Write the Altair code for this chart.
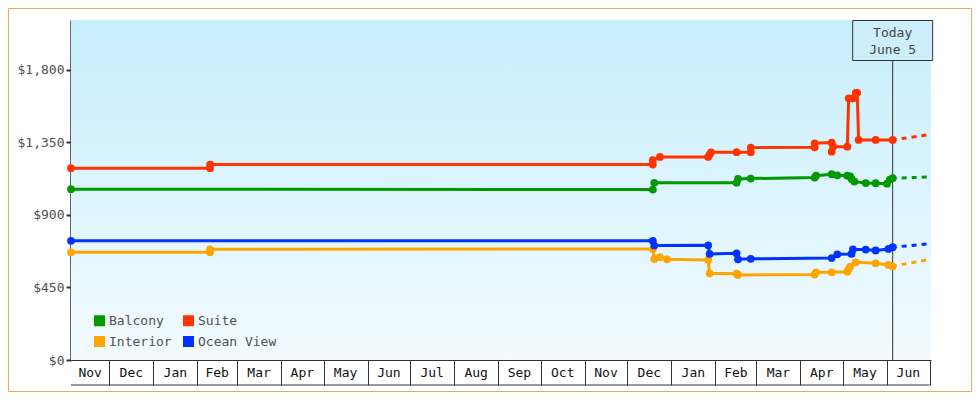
import altair as alt
import pandas as pd

MONO = "DejaVu Sans Mono"

# legend is filled column by column: Balcony/Interior, then Suite/Ocean View
series_names = ["Balcony", "Interior", "Suite", "Ocean View"]
series_colors = ["#009900", "#ffa500", "#ff3300", "#0033ff"]

suite_dates = ["2022-11-04", "2023-02-10", "2023-02-10", "2023-12-19", "2023-12-19", "2023-12-24",
               "2024-01-27", "2024-01-28", "2024-01-29", "2024-02-16", "2024-02-26", "2024-02-26",
               "2024-04-11", "2024-04-11", "2024-04-23", "2024-04-23", "2024-04-24", "2024-05-04",
               "2024-05-05", "2024-05-08", "2024-05-10", "2024-05-11", "2024-05-12", "2024-05-24",
               "2024-06-05"]
suite_values = [1190, 1190, 1213, 1213, 1240, 1260,
                1260, 1275, 1289, 1290, 1290, 1318,
                1320, 1345, 1349, 1293, 1324, 1324,
                1624, 1624, 1658, 1658, 1366, 1366,
                1366]

balcony_dates = ["2022-11-04", "2023-12-19", "2023-12-20", "2024-02-16", "2024-02-17", "2024-02-26",
                 "2024-04-11", "2024-04-12", "2024-04-23", "2024-04-27", "2024-05-04", "2024-05-06",
                 "2024-05-07", "2024-05-09", "2024-05-17", "2024-05-24", "2024-06-01", "2024-06-03",
                 "2024-06-05"]
balcony_values = [1060, 1058, 1100, 1100, 1124, 1126,
                  1132, 1144, 1153, 1146, 1144, 1140,
                  1124, 1107, 1098, 1097, 1094, 1120,
                  1128]

interior_dates = ["2022-11-04", "2023-02-10", "2023-02-10", "2023-12-19", "2023-12-20", "2023-12-24",
                  "2023-12-29", "2024-01-27", "2024-01-28", "2024-02-16", "2024-02-17", "2024-04-11",
                  "2024-04-12", "2024-04-23", "2024-05-04", "2024-05-05", "2024-05-06", "2024-05-10",
                  "2024-05-24", "2024-06-02", "2024-06-05"]
interior_values = [668, 668, 687, 689, 627, 638,
                   625, 621, 538, 536, 528, 530,
                   544, 544, 548, 565, 579, 606,
                   600, 590, 580]

ocean_dates = ["2022-11-04", "2023-12-19", "2023-12-20", "2024-01-27", "2024-01-28", "2024-02-16",
               "2024-02-17", "2024-02-26", "2024-04-23", "2024-04-27", "2024-05-07", "2024-05-08",
               "2024-05-17", "2024-05-24", "2024-06-02", "2024-06-05"]
ocean_values = [740, 740, 710, 712, 658, 662,
                625, 628, 633, 656, 658, 686,
                685, 680, 689, 700]

proj_dates = ["2024-06-05", "2024-07-02"]
proj_suite = [1366, 1400]
proj_balcony = [1128, 1136]
proj_interior = [582, 625]
proj_ocean = [700, 722]

today_date = "2024-06-05"
today_label = ["Today", "June 5"]

y_ticks = [0, 450, 900, 1350, 1800]
y_max = 2110

domain_start = "2022-11-04"
domain_end = "2024-07-02"
month_names = ["Nov", "Dec", "Jan", "Feb", "Mar", "Apr", "May", "Jun", "Jul", "Aug",
               "Sep", "Oct", "Nov", "Dec", "Jan", "Feb", "Mar", "Apr", "May", "Jun"]
month_starts = pd.date_range("2022-12-01", "2024-07-01", freq="MS")

# ---- tables ----
rows = []
for name, ds_, vs in [("Suite", suite_dates, suite_values), ("Balcony", balcony_dates, balcony_values),
                      ("Interior", interior_dates, interior_values), ("Ocean View", ocean_dates, ocean_values)]:
    for i, (d, v) in enumerate(zip(ds_, vs)):
        rows.append({"series": name, "date": pd.Timestamp(d), "price": v, "idx": i})
df = pd.DataFrame(rows)

prows = []
for name, vs in [("Suite", proj_suite), ("Balcony", proj_balcony),
                 ("Interior", proj_interior), ("Ocean View", proj_ocean)]:
    for i, (d, v) in enumerate(zip(proj_dates, vs)):
        prows.append({"series": name, "date": pd.Timestamp(d), "price": v, "idx": i})
pdf = pd.DataFrame(prows)

starts = [pd.Timestamp(domain_start)] + list(month_starts[:-1])
ends = list(month_starts)
month_df = pd.DataFrame({
    "name": month_names,
    "mid": [s + (e - s) / 2 for s, e in zip(starts, ends)],
})
bottom_df = pd.DataFrame({"start": [pd.Timestamp(domain_start)], "end": [month_starts[-1]]})
today_df = pd.DataFrame({"date": [pd.Timestamp(today_date)], "label": ["\n".join(today_label)]})
one = pd.DataFrame({"a": [0]})

W, H = 860, 340

ds = pd.Timestamp(domain_start)
de = pd.Timestamp(domain_end)
x_scale = alt.Scale(domain=[alt.DateTime(year=ds.year, month=ds.month, date=ds.day),
                            alt.DateTime(year=de.year, month=de.month, date=de.day)])
y_scale = alt.Scale(domain=[0, y_max], nice=False)
color_scale = alt.Scale(domain=series_names, range=series_colors)

x_axis = alt.Axis(values=[alt.DateTime(year=d.year, month=d.month, date=d.day) for d in month_starts],
                  labels=False, tickSize=25, tickWidth=1, tickColor="#333333",
                  domainColor="#333333", domainWidth=1, grid=False, title=None)
y_axis = alt.Axis(values=y_ticks, format="$,.0f", tickSize=5, tickWidth=2, tickColor="#333333",
                  domainColor="#333333", domainWidth=2.5, labelFont=MONO, labelFontSize=13,
                  labelColor="#505050", labelPadding=2, grid=False, title=None)
legend = alt.Legend(title=None, orient="none", legendX=22, legendY=294, columns=2,
                    symbolType="square", symbolSize=121, symbolStrokeWidth=0,
                    labelFont=MONO, labelFontSize=13, labelColor="#505050", labelOffset=3,
                    rowPadding=7, columnPadding=10, padding=0)

grad = alt.Gradient(gradient="linear",
                    stops=[alt.GradientStop(offset=0, color="#c6eefc"),
                           alt.GradientStop(offset=1, color="#f3fbff")],
                    x1=0, x2=0, y1=0, y2=1)

bg = alt.Chart(one).mark_rect(color=grad).encode(
    x=alt.value(0), x2=alt.value(W), y=alt.value(0), y2=alt.value(H))
border = alt.Chart(one).mark_rect(fillOpacity=0, stroke="#e8a865", strokeWidth=1).encode(
    x=alt.value(-62.5), x2=alt.value(W + 40.5), y=alt.value(-11.5), y2=alt.value(H + 31.5))

lines = alt.Chart(df).mark_line(strokeWidth=3).encode(
    x=alt.X("date:T", scale=x_scale, axis=x_axis),
    y=alt.Y("price:Q", scale=y_scale, axis=y_axis),
    color=alt.Color("series:N", scale=color_scale, legend=None),
    order=alt.Order("idx:Q"))
proj = alt.Chart(pdf).mark_line(strokeWidth=3, strokeDash=[5, 5], strokeDashOffset=1).encode(
    x="date:T", y="price:Q",
    color=alt.Color("series:N", scale=color_scale, legend=None),
    order=alt.Order("idx:Q"))
points = alt.Chart(df).mark_circle(size=60, opacity=1).encode(
    x="date:T", y="price:Q",
    color=alt.Color("series:N", scale=color_scale, legend=legend))

today_rule = alt.Chart(today_df).mark_rule(color="#333333", strokeWidth=1).encode(
    x="date:T", y=alt.value(40.5), y2=alt.value(H))
today_box = alt.Chart(today_df).mark_rect(fill="#cdeffb", stroke="#333333", strokeWidth=1,
                                          xOffset=-40, x2Offset=40).encode(
    x="date:T", x2="date:T", y=alt.value(0.5), y2=alt.value(40.5))
today_text = alt.Chart(today_df).mark_text(lineBreak="\n", font=MONO, fontSize=13, color="#444444",
                                           baseline="middle", align="center", lineHeight=17).encode(
    x="date:T", y=alt.value(12.5), text="label:N")

month_text = alt.Chart(month_df).mark_text(font=MONO, fontSize=13, color="#111111",
                                           baseline="middle", align="center").encode(
    x="mid:T", y=alt.value(H + 13), text="name:N")
bottom_rule = alt.Chart(bottom_df).mark_rule(color="#333333", strokeWidth=1).encode(
    x="start:T", x2="end:T", y=alt.value(H + 25))

chart = alt.layer(bg, border, bottom_rule, lines, proj, today_rule, points,
                  today_box, today_text, month_text).resolve_legend(
    color="independent"
).properties(
    width=W, height=H,
    padding={"left": 63, "top": 12, "right": 41, "bottom": 32},
    autosize=alt.AutoSizeParams(type="none"),
).configure_view(stroke=None)

chart.save("out.html", embed_options={"renderer": "svg", "actions": False})
